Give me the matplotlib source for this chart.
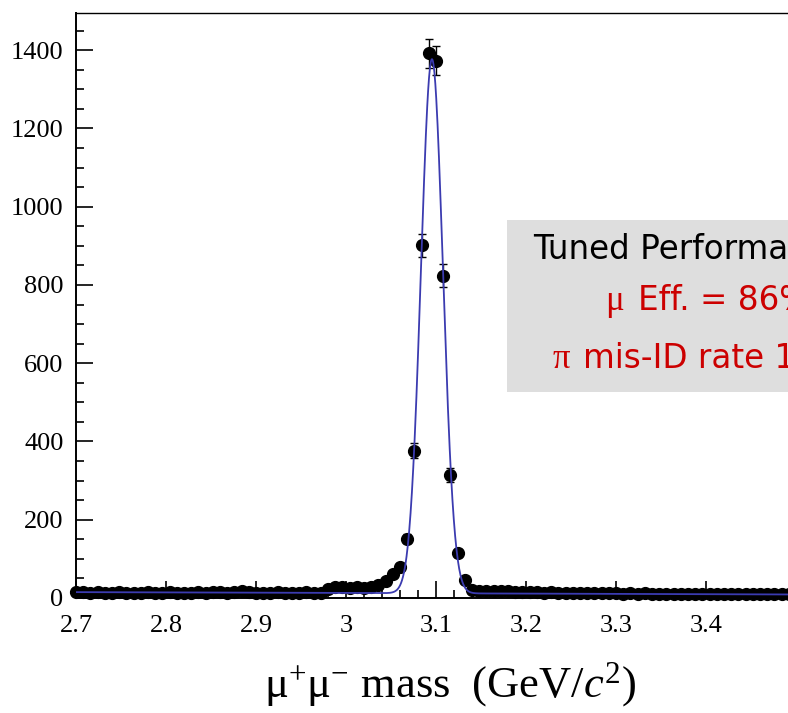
import numpy as np
import matplotlib
matplotlib.use('Agg')
import matplotlib.pyplot as plt
from matplotlib.ticker import MultipleLocator, FuncFormatter
from matplotlib.patches import Rectangle

# ── Data: mu+mu- invariant mass histogram (100 bins, 2.7 - 3.5 GeV) ─────────
BIN_WIDTH = 0.008
N_BINS = 100
bin_centers = 2.7 + BIN_WIDTH * np.arange(N_BINS)

counts_low = [15, 16, 14, 15, 13, 14, 15, 14, 13, 14, 15, 14, 13, 15, 14, 13, 14,
              15, 14, 16, 15, 14, 16, 17, 15, 14, 13, 14, 15, 14, 13, 14, 15, 13, 12]
counts_shoulder = [24, 27, 28, 26, 27, 25, 28, 33, 44, 61, 80]
counts_peak = [152, 376, 901, 1392, 1373, 824, 315, 115, 46]
counts_high = [20, 19, 18, 18, 17, 17, 16, 16, 15, 15, 14, 15, 14, 13, 14, 13, 12,
               13, 12, 13, 12, 11, 12, 11, 12, 11, 10, 11, 10, 11, 10, 11, 10, 9,
               10, 11, 10, 9, 10, 9, 10, 9, 10, 9, 10]
counts = np.array(counts_low + counts_shoulder + counts_peak + counts_high, float)
errors = np.sqrt(counts)

# ── Fit result: Gaussian on a linear background ──────────────────────────────
FIT_MEAN = 3.0955
FIT_SIGMA = 0.0122
FIT_AMP = 1365.0
FIT_BG0 = 15.0      # background at 2.7 GeV
FIT_BG1 = -7.5      # background slope per GeV

X_LABEL = r'$\mathrm{\mu}^{+}\mathrm{\mu}^{-}$ mass  (GeV/$c^{2}$)'
BOX_LINE1 = 'Tuned Performance'
BOX_MU = 'μ'
BOX_LINE2 = 'Eff. = 86%'
BOX_PI = 'π'
BOX_LINE3 = 'mis-ID rate 1.5%'

# ── Style ────────────────────────────────────────────────────────────────────
W, H = 788, 713
plt.rcParams.update({
    'font.family': 'Liberation Serif',
    'mathtext.fontset': 'custom',
    'mathtext.rm': 'Liberation Serif',
    'mathtext.it': 'Liberation Serif:italic',
})
FIT_COLOR = '#3b3bb0'
RED = '#cc0000'

fig = plt.figure(figsize=(W / 100, H / 100), dpi=100)
ax = fig.add_axes([76 / W, 115 / H, (796 - 76) / W, (598 - 13) / H])

x_fit = np.linspace(2.7, 3.5, 1600)
y_fit = (FIT_BG0 + FIT_BG1 * (x_fit - 2.7)
         + FIT_AMP * np.exp(-0.5 * ((x_fit - FIT_MEAN) / FIT_SIGMA) ** 2))

ax.errorbar(bin_centers, counts, yerr=errors, fmt='o', color='black',
            markersize=8.5, elinewidth=1.0, capsize=3, capthick=1.0,
            zorder=2, clip_on=False)
ax.plot(x_fit, y_fit, color=FIT_COLOR, lw=1.3, zorder=3)

ax.set_xlim(2.7, 3.5)
ax.set_ylim(0, 1495)

ax.xaxis.set_major_locator(MultipleLocator(0.1))
ax.xaxis.set_minor_locator(MultipleLocator(0.02))
ax.yaxis.set_major_locator(MultipleLocator(200))
ax.yaxis.set_minor_locator(MultipleLocator(50))
# the 3.5 label falls outside the cropped picture
ax.xaxis.set_major_formatter(FuncFormatter(lambda v, p: f'{v:g}' if v < 3.45 else ''))
ax.yaxis.set_major_formatter(FuncFormatter(lambda v, p: f'{v:g}'))
ax.tick_params(which='both', direction='in', width=1.2, labelsize=19)
ax.tick_params(which='major', length=12)
ax.tick_params(which='minor', length=6)
ax.tick_params(axis='x', pad=12)
ax.tick_params(axis='y', pad=9)
for s in ax.spines.values():
    s.set_linewidth(1.4)
ax.spines['top'].set_linewidth(1.0)

fig.text(450 / W, 1 - 685 / H, X_LABEL, fontsize=32,
         ha='center', va='center')

# ── Gray annotation box (cut off by the right edge) ─────────────────────────
fig.patches.append(Rectangle((507 / W, 1 - 392 / H), (W - 507) / W + 0.2,
                             (392 - 220) / H, transform=fig.transFigure,
                             facecolor='#dedede', edgecolor='none', zorder=5))
sans = ['DejaVu Sans']
fig.text(533 / W, 1 - 259 / H, BOX_LINE1, fontsize=23.5, family=sans,
         color='black', va='baseline', zorder=6)
fig.text(605 / W, 1 - 310 / H, BOX_MU, fontsize=25, color=RED,
         va='baseline', zorder=6)
fig.text(638 / W, 1 - 310 / H, BOX_LINE2, fontsize=23.5, family=sans,
         color=RED, va='baseline', zorder=6)
fig.text(553 / W, 1 - 368 / H, BOX_PI, fontsize=25, color=RED,
         va='baseline', zorder=6)
fig.text(583 / W, 1 - 368 / H, BOX_LINE3, fontsize=23.5, family=sans,
         color=RED, va='baseline', zorder=6)

fig.savefig('out.png', dpi=100)
